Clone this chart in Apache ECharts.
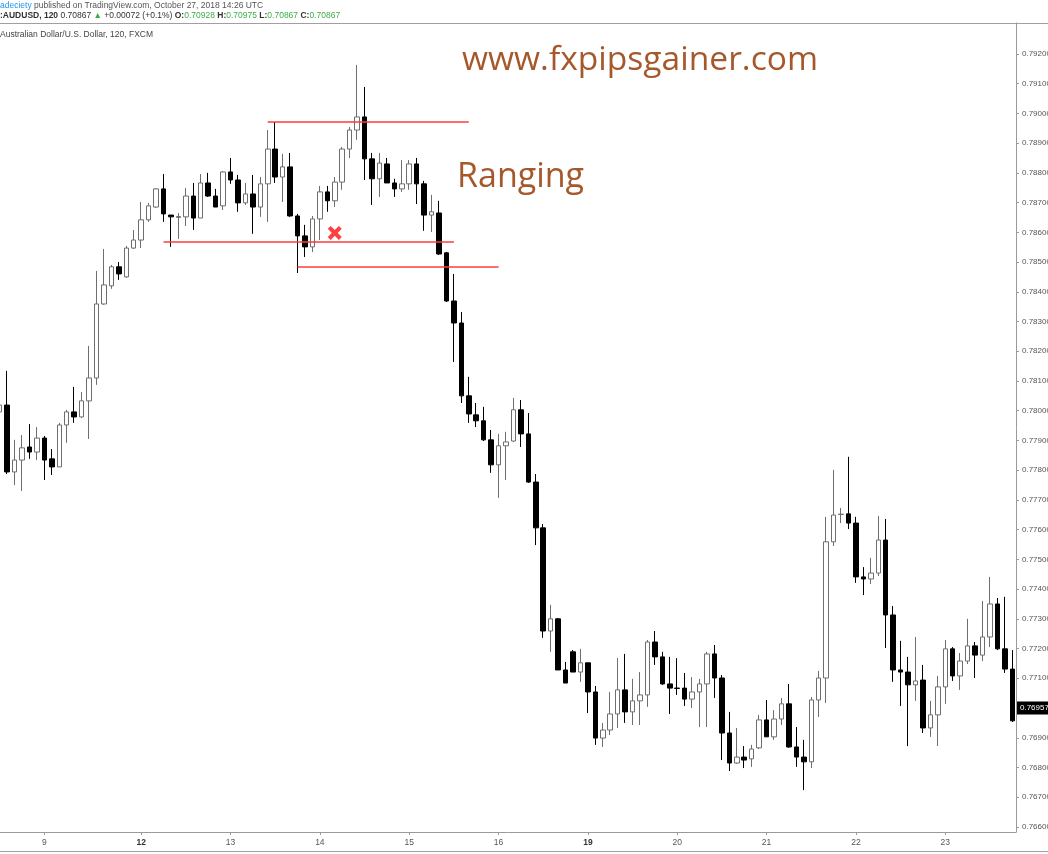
<!DOCTYPE html>
<html>
<head>
<meta charset="utf-8">
<title>AUDUSD 120</title>
<script src="https://cdn.jsdelivr.net/npm/echarts@6/dist/echarts.min.js"></script>
<style>
  html, body { margin: 0; padding: 0; background: #fff; }
  #chart { width: 1048px; height: 854px; }
</style>
</head>
<body>
<div id="chart"></div>
<script>
// 2h candles
const opens = [
  0.77996,0.78019,0.77794,0.77834,0.77878,0.77861,0.77908,0.77838,0.77811,0.77952,
  0.77996,0.77979,0.78033,0.78110,0.78359,0.78420,0.78484,0.78450,0.78547,0.78574,
  0.78642,0.78685,0.78746,0.78658,0.78650,0.78652,0.78722,0.78648,0.78766,0.78722,
  0.78689,0.78803,0.78776,0.78699,0.78729,0.78685,0.78763,0.78880,0.78786,0.78820,
  0.78655,0.78588,0.78551,0.78645,0.78736,0.78706,0.78769,0.78880,0.78944,0.78988,
  0.78847,0.78780,0.78830,0.78766,0.78746,0.78763,0.78830,0.78763,0.78658,0.78665,
  0.78531,0.78369,0.78295,0.78050,0.77986,0.77966,0.77902,0.77818,0.77882,0.77898,
  0.78003,0.77922,0.77760,0.77606,0.77259,0.77300,0.77128,0.77189,0.77121,0.77152,
  0.77054,0.76899,0.76926,0.76980,0.77061,0.76987,0.77024,0.77044,0.77222,0.77172,
  0.77081,0.77067,0.77067,0.77030,0.77054,0.77081,0.77182,0.77101,0.76916,0.76815,
  0.76835,0.76829,0.76866,0.76960,0.76903,0.76963,0.77014,0.76869,0.76835,0.76819,
  0.77027,0.77101,0.77559,0.77651,0.77653,0.77622,0.77441,0.77434,0.77454,0.77565,
  0.77313,0.77128,0.77121,0.77078,0.77094,0.76933,0.76977,0.77071,0.77199,0.77108,
  0.77158,0.77209,0.77178,0.77239,0.77350,0.77199,0.77131
];
const closes = [
  0.78019,0.77794,0.77834,0.77875,0.77861,0.77908,0.77834,0.77811,0.77952,0.77996,
  0.77979,0.78033,0.78110,0.78359,0.78423,0.78484,0.78460,0.78547,0.78574,0.78642,
  0.78689,0.78746,0.78662,0.78652,0.78653,0.78722,0.78648,0.78766,0.78722,0.78685,
  0.78803,0.78776,0.78699,0.78729,0.78685,0.78763,0.78880,0.78786,0.78820,0.78655,
  0.78588,0.78551,0.78645,0.78736,0.78706,0.78769,0.78880,0.78944,0.78988,0.78847,
  0.78780,0.78833,0.78766,0.78746,0.78763,0.78830,0.78763,0.78658,0.78669,0.78527,
  0.78369,0.78295,0.78050,0.77989,0.77966,0.77902,0.77818,0.77882,0.77895,0.78003,
  0.77922,0.77760,0.77606,0.77259,0.77300,0.77128,0.77084,0.77121,0.77152,0.77054,
  0.76899,0.76926,0.76980,0.77061,0.76987,0.77024,0.77044,0.77222,0.77172,0.77081,
  0.77067,0.77066,0.77030,0.77054,0.77081,0.77182,0.77101,0.76916,0.76815,0.76835,
  0.76825,0.76862,0.76960,0.76903,0.76963,0.77014,0.76869,0.76835,0.76819,0.77027,
  0.77101,0.77559,0.77649,0.77652,0.77622,0.77441,0.77434,0.77454,0.77565,0.77313,
  0.77128,0.77121,0.77078,0.77091,0.76933,0.76977,0.77071,0.77199,0.77108,0.77158,
  0.77209,0.77178,0.77239,0.77350,0.77199,0.77131,0.76957
];
const highs = [
  0.78103,0.78134,0.77902,0.77918,0.77955,0.77945,0.77915,0.77871,0.77959,0.78003,
  0.78080,0.78063,0.78218,0.78470,0.78544,0.78490,0.78500,0.78554,0.78608,0.78702,
  0.78699,0.78749,0.78796,0.78658,0.78665,0.78749,0.78766,0.78796,0.78800,0.78746,
  0.78806,0.78850,0.78793,0.78766,0.78793,0.78786,0.78944,0.78971,0.78864,0.78867,
  0.78662,0.78625,0.78655,0.78756,0.78756,0.78786,0.78887,0.78954,0.79163,0.79089,
  0.78867,0.78867,0.78850,0.78780,0.78843,0.78843,0.78850,0.78773,0.78726,0.78706,
  0.78534,0.78460,0.78332,0.78114,0.78026,0.78013,0.77935,0.77922,0.77929,0.78043,
  0.78036,0.77992,0.77787,0.77619,0.77347,0.77303,0.77155,0.77195,0.77199,0.77152,
  0.77074,0.76950,0.77054,0.77168,0.77182,0.77098,0.77121,0.77229,0.77259,0.77189,
  0.77172,0.77168,0.77118,0.77104,0.77098,0.77189,0.77212,0.77111,0.76987,0.76933,
  0.76872,0.76876,0.76977,0.77027,0.76993,0.77034,0.77081,0.76936,0.76893,0.77037,
  0.77125,0.77643,0.77801,0.77673,0.77845,0.77643,0.77474,0.77505,0.77646,0.77636,
  0.77343,0.77226,0.77172,0.77239,0.77145,0.77024,0.77108,0.77229,0.77205,0.77185,
  0.77300,0.77222,0.77360,0.77441,0.77370,0.77374,0.77195
];
const lows = [
  0.77986,0.77787,0.77750,0.77730,0.77838,0.77834,0.77767,0.77784,0.77811,0.77892,
  0.77959,0.77976,0.77905,0.78087,0.78356,0.78410,0.78440,0.78447,0.78544,0.78547,
  0.78635,0.78682,0.78635,0.78551,0.78578,0.78621,0.78608,0.78648,0.78719,0.78685,
  0.78675,0.78763,0.78669,0.78692,0.78595,0.78652,0.78635,0.78766,0.78702,0.78652,
  0.78463,0.78517,0.78534,0.78574,0.78669,0.78685,0.78743,0.78850,0.78911,0.78776,
  0.78692,0.78719,0.78766,0.78719,0.78736,0.78743,0.78695,0.78605,0.78601,0.78524,
  0.78366,0.78164,0.78026,0.77959,0.77945,0.77898,0.77791,0.77707,0.77767,0.77895,
  0.77878,0.77757,0.77548,0.77236,0.77189,0.77128,0.77084,0.77121,0.77088,0.76983,
  0.76876,0.76869,0.76909,0.76933,0.76950,0.76943,0.76943,0.77004,0.77145,0.77078,
  0.76980,0.77044,0.77007,0.77000,0.76936,0.76936,0.77034,0.76825,0.76788,0.76812,
  0.76798,0.76802,0.76862,0.76903,0.76893,0.76943,0.76866,0.76802,0.76724,0.76798,
  0.76970,0.77017,0.77545,0.77622,0.77602,0.77421,0.77380,0.77417,0.77444,0.77202,
  0.77088,0.77007,0.76872,0.77024,0.76916,0.76903,0.76872,0.77014,0.77091,0.77061,
  0.77148,0.77101,0.77158,0.77205,0.77195,0.77118,0.76953
];

// day labels on the time axis (candle index where the day starts)
const dayTickIndex = [6, 19, 31, 43, 55, 67, 79, 91, 103, 115, 127];
const dayTickLabels = ['9', '12', '13', '14', '15', '16', '19', '20', '21', '22', '23'];
const weekStartLabels = ['12', '19'];

const priceTicks = [
  0.766, 0.767, 0.768, 0.769, 0.770, 0.771, 0.772, 0.773, 0.774,
  0.775, 0.776, 0.777, 0.778, 0.779, 0.780, 0.781, 0.782, 0.783,
  0.784, 0.785, 0.786, 0.787, 0.788, 0.789, 0.790, 0.791, 0.792
];
const priceMin = 0.76583;
const priceMax = 0.79304;

// hand drawn levels: [fromIndex, toIndex, price]
const rangeLevels = [
  [36, 63, 0.78971],
  [22, 61, 0.78568],
  [40, 67, 0.78484]
];
const crossMark = [45, 0.78598];
const lastClose = closes[closes.length - 1];

const categories = opens.map((_, i) => String(i));
const candles = opens.map((o, i) => [o, closes[i], lows[i], highs[i]]);
const tickSet = new Set(dayTickIndex);

const chart = echarts.init(document.getElementById('chart'));

const option = {
    animation: false,
    backgroundColor: '#ffffff',
    textStyle: {fontFamily: 'Liberation Sans'},
    grid: {left: -4, right: 32, top: 23, bottom: 22, outerBoundsMode: 'none'},
    xAxis: {
        type: 'category',
        data: categories,
        boundaryGap: true,
        axisLine: {lineStyle: {color: '#9a9a9a'}},
        axisTick: {
            show: true,
            alignWithLabel: true,
            interval: (i) => tickSet.has(i),
            length: 3,
            lineStyle: {color: '#9a9a9a'}
        },
        axisLabel: {
            interval: (i) => tickSet.has(i),
            formatter: function (value, index) {
                const k = dayTickIndex.indexOf(index);
                if (k < 0) return '';
                const lab = dayTickLabels[k];
                return weekStartLabels.includes(lab) ? '{b|' + lab + '}' : lab;
            },
            color: '#555',
            fontSize: 8.5,
            margin: 6,
            rich: {b: {fontWeight: 'bold', color: '#333', fontSize: 8.5}}
        },
        splitLine: {show: false}
    },
    yAxis: {
        type: 'value',
        position: 'right',
        min: priceMin,
        max: priceMax,
        axisLine: {show: true, lineStyle: {color: '#9a9a9a'}},
        axisTick: {show: true, length: 3, customValues: priceTicks, lineStyle: {color: '#9a9a9a'}},
        axisLabel: {
            customValues: priceTicks,
            formatter: (v) => v.toFixed(5),
            color: '#555',
            fontSize: 8,
            margin: 6
        },
        splitLine: {show: false}
    },
    series: [
        {
            name: 'AUDUSD',
            type: 'candlestick',
            data: candles,
            barWidth: 5,
            itemStyle: {
                color: '#ffffff',
                color0: '#000000',
                borderColor: '#6e6e6e',
                borderColor0: '#000000',
                borderWidth: 1
            },
            markLine: {
                silent: true,
                symbol: ['none', 'none'],
                animation: false,
                data: rangeLevels.map(l => [
                    {coord: [l[0], l[2]], lineStyle: {color: '#ff3b3b', width: 1.5, type: 'solid'}, label: {show: false}},
                    {coord: [l[1], l[2]]}
                ])
            }
        },
        {
            // last price tag on the price scale
            type: 'line',
            data: [],
            silent: true,
            markLine: {
                silent: true,
                symbol: ['none', 'none'],
                animation: false,
                data: [{
                    yAxis: lastClose,
                    lineStyle: {color: 'rgba(0,0,0,0)', width: 0},
                    label: {
                        show: true,
                        position: 'end',
                        distance: 1,
                        formatter: () => lastClose.toFixed(5),
                        color: '#fff',
                        backgroundColor: '#000',
                        padding: [3, 3, 2, 3],
                        fontSize: 8
                    }
                }]
            }
        },
        {
            type: 'scatter',
            data: [crossMark],
            symbol: 'path://M0,2.5 L2.5,0 L6,3.5 L9.5,0 L12,2.5 L8.5,6 L12,9.5 L9.5,12 L6,8.5 L2.5,12 L0,9.5 L3.5,6 Z',
            symbolSize: 14,
            itemStyle: {color: '#ff1010'},
            silent: true,
            z: 5
        }
    ],
    graphic: [
        {
            type: 'text', left: 0, top: 1,
            style: {
                text: '{u|adeciety} published on TradingView.com, October 27, 2018 14:26 UTC',
                fill: '#555', fontSize: 8.5, fontFamily: 'Liberation Sans',
                rich: {u: {fill: '#2196f3', fontSize: 8.5}}
            }
        },
        {
            type: 'text', left: 0, top: 11,
            style: {
                text: '{b|:AUDUSD, 120} 0.70867 {g|\u25B2} +0.00072 (+0.1%) {b|O:}{g|0.70928} {b|H:}{g|0.70975} {b|L:}{g|0.70867} {b|C:}{g|0.70867}',
                fill: '#333', fontSize: 8.5, fontFamily: 'Liberation Sans',
                rich: {
                    b: {fontWeight: 'bold', fill: '#333', fontSize: 8.5},
                    g: {fill: '#3fae49', fontSize: 8.5}
                }
            }
        },
        {
            type: 'line',
            shape: {x1: 0, y1: 23.5, x2: 1048, y2: 23.5},
            style: {stroke: '#a0a0a0', lineWidth: 1}
        },
        {
            type: 'text', left: 0, top: 30,
            style: {text: 'Australian Dollar/U.S. Dollar, 120, FXCM', fill: '#444', fontSize: 8.5, fontFamily: 'Liberation Sans'}
        },
        {
            type: 'line',
            shape: {x1: 0, y1: 851.5, x2: 1048, y2: 851.5},
            style: {stroke: '#a0a0a0', lineWidth: 1}
        },
        {
            type: 'text', x: 462, y: 60,
            style: {text: 'www.fxpipsgainer.com', fill: '#a5582b', fontSize: 33.6, fontFamily: 'Open Sans', verticalAlign: 'middle'}
        },
        {
            type: 'text', x: 457, y: 177,
            style: {text: 'Ranging', fill: '#a5582b', fontSize: 34, fontFamily: 'Open Sans', verticalAlign: 'middle'}
        }
    ]
};

chart.setOption(option);
</script>
</body>
</html>
